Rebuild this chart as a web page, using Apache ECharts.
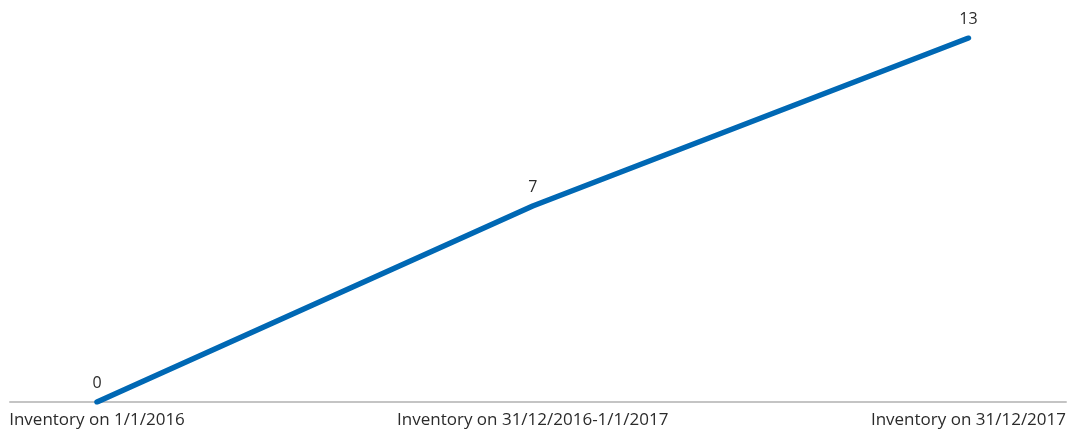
<!DOCTYPE html>
<html>
<head>
<meta charset="utf-8">
<script src="https://cdn.jsdelivr.net/npm/echarts@6/dist/echarts.min.js"></script>
<style>
  html, body { margin: 0; padding: 0; background: #fff; }
  #chart { width: 1069px; height: 429px; }
</style>
</head>
<body>
<div id="chart"></div>
<script>
// 数据
var categories = ['Inventory on 1/1/2016', 'Inventory on 31/12/2016-1/1/2017', 'Inventory on 31/12/2017']
var inventory = [0, 7, 13]

var myChart = echarts.init(document.getElementById('chart'))
myChart.setOption({
  animation: false,
  textStyle: { fontFamily: 'Open Sans' },
  grid: [
    { left: 97, right: 99, top: 38, bottom: 27 },
    // 只用来画底部的长坐标轴线
    { left: 10, right: 3, top: 38, bottom: 27 }
  ],
  xAxis: [
    {
      type: 'category',
      gridIndex: 0,
      data: categories,
      boundaryGap: false,
      axisLine: { show: false },
      axisTick: { show: false },
      axisLabel: { color: '#2b2b2b', fontSize: 17, margin: 10, interval: 0 }
    },
    {
      type: 'category',
      gridIndex: 1,
      data: categories,
      boundaryGap: false,
      axisLine: { show: true, lineStyle: { color: '#c4c4c4', width: 2 } },
      axisTick: { show: false },
      axisLabel: { show: false }
    }
  ],
  yAxis: [
    { type: 'value', gridIndex: 0, min: 0, max: 13, show: false },
    { type: 'value', gridIndex: 1, min: 0, max: 13, show: false }
  ],
  series: [{
    name: 'Inventory',
    type: 'line',
    xAxisIndex: 0,
    yAxisIndex: 0,
    data: inventory,
    symbol: 'circle',
    symbolSize: 1,
    showSymbol: true,
    itemStyle: { color: 'rgba(0,0,0,0)' },
    lineStyle: { color: '#0068b4', width: 5.5, cap: 'round' },
    label: {
      show: true,
      position: 'top',
      distance: 10,
      color: '#2b2b2b',
      fontSize: 16
    }
  }]
})
</script>
</body>
</html>
